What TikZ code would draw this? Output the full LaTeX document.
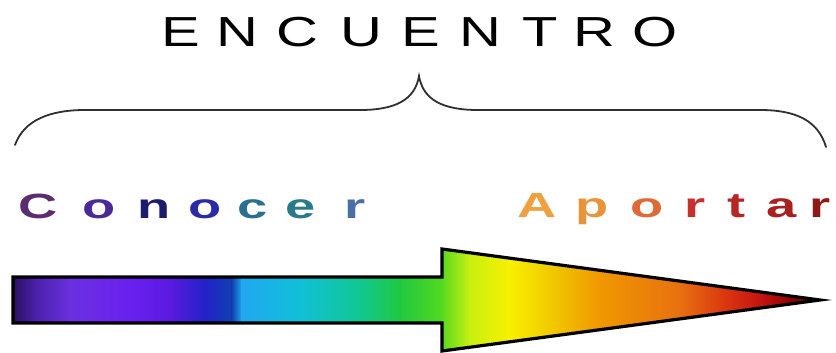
\documentclass[tikz,border=0pt]{standalone}
\usepackage{fontspec}
\setmainfont{Liberation Sans}
\definecolor{cA}{HTML}{5B2C6F}
\definecolor{cB}{HTML}{4A2A9A}
\definecolor{cC}{HTML}{1C1C6E}
\definecolor{cD}{HTML}{2A2AA8}
\definecolor{cE}{HTML}{2A6F8F}
\definecolor{cF}{HTML}{2A7A8A}
\definecolor{cG}{HTML}{4A6FA8}
\definecolor{dA}{HTML}{F0A040}
\definecolor{dB}{HTML}{E8943A}
\definecolor{dC}{HTML}{E06A35}
\definecolor{dD}{HTML}{C83030}
\definecolor{dE}{HTML}{B82525}
\definecolor{dF}{HTML}{A82020}
\definecolor{dG}{HTML}{901818}
\definecolor{braceg}{HTML}{303030}
\begin{document}
\begin{tikzpicture}[x=1pt,y=-1pt,
  titlech/.style={anchor=base,inner sep=0pt,font=\fontsize{42}{42}\selectfont,xscale=1.38,text=black},
  wordch/.style={anchor=base,inner sep=0pt,font=\fontsize{35}{35}\selectfont\bfseries,xscale=1.55}]
\useasboundingbox[fill=white] (0,0) rectangle (836,353);
% title letters
\foreach \ch/\cx [count=\i] in {E/181,N/237,C/297,U/361,E/421,N/480,T/540,R/594,O/655}
  \node[titlech] (t\i) at (\cx,47) {\ch};
% brace
\draw[braceg,line width=1.8pt,line cap=round]
  (15,145) .. controls (24,120) and (50,110) .. (85,110) -- (360,110)
  .. controls (395,110) and (415,100) .. (419,76)
  .. controls (423,100) and (443,110) .. (478,110) -- (760,110)
  .. controls (795,110) and (818,120) .. (826,147);
% Conocer
\foreach \ch/\cx/\cc [count=\i] in {C/38/cA,o/99/cB,n/154/cC,o/205/cD,c/253/cE,e/301/cF,r/355/cG}
  \node[wordch,text=\cc] (c\i) at (\cx,218) {\ch};
% Aportar
\foreach \ch/\cx/\cc [count=\i] in {A/537/dA,p/592/dB,o/647/dC,r/695/dD,t/737/dE,a/782/dF,r/820/dG}
  \node[wordch,text=\cc] (a\i) at (\cx,217) {\ch};
% arrow fill
\begin{scope}
\clip (13,277) -- (442,277) -- (442,249) -- (820,300) -- (442,351) -- (442,323) -- (13,323) -- cycle;
\def\prevx{0}\def\prevc{2A1060}
\foreach \sx/\sc in {13/2A1060,35/4A20A8,70/6A30E0,130/6A20F0,170/5A1AE0,205/2222C8,232/1040B0,242/20A8F0,300/10C0D8,360/10C890,400/20C840,440/50D820,470/C8F010,510/F8F000,560/F0C000,600/F09800,680/E87010,730/D83010,765/C01010,800/800000,830/300000}{
  \definecolor{lc}{HTML}{\prevc}\definecolor{rc}{HTML}{\sc}
  \shade[left color=lc,right color=rc] (\prevx-0.3,240) rectangle (\sx+0.3,360);
  \global\let\prevx\sx \global\let\prevc\sc
}
\end{scope}
\draw[black,line width=3.2pt,line join=miter]
  (13,277) -- (442,277) -- (442,249) -- (820,300) -- (442,351) -- (442,323) -- (13,323) -- cycle;
\end{tikzpicture}
\end{document}
